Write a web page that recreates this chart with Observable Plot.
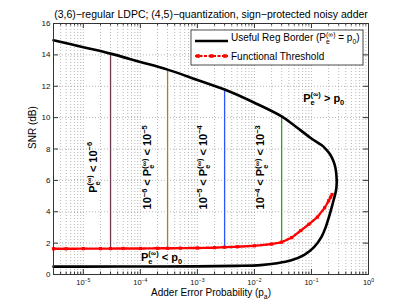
<!DOCTYPE html>
<html><head><meta charset="utf-8">
<script src="https://cdn.jsdelivr.net/npm/d3@7"></script>
<script src="https://cdn.jsdelivr.net/npm/@observablehq/plot@0.6"></script>
<style>
body{margin:0;background:#fff}
svg{font-family:"Liberation Sans",Arial,Helvetica,sans-serif}
</style>
</head><body><div id="chart"></div>
<script>
// ---------- data ----------
const titleText = "(3,6)−regular LDPC; (4,5)−quantization, sign−protected noisy adder";
const xLabel = "Adder Error Probability (p_{a})";
const yLabel = "SNR (dB)";
const xTicks = [1e-5, 1e-4, 1e-3, 1e-2, 1e-1, 1];
const yTicks = [0, 2, 4, 6, 8, 10, 12, 14, 16];

// Useful Reg Border (upper branch left->nose, then lower branch back to left)
const borderP = [3e-6, 1e-5, 3e-5, 1e-4, 3e-4, 1e-3, 3e-3, 1e-2, 3e-2, 5e-2, 0.1, 0.15, 0.18, 0.21, 0.235, 0.255, 0.268, 0.275, 0.277,
                 0.272, 0.26, 0.245, 0.225, 0.2, 0.177, 0.15, 0.111, 0.075, 0.043, 0.025, 0.0128, 5e-3, 1e-3, 1e-4, 1e-5, 3e-6];
const borderSNR = [14.93, 14.49, 14.08, 13.55, 13.06, 12.4, 11.79, 10.95, 10.08, 9.5, 8.67, 8.25, 7.98, 7.68, 7.35, 7.0, 6.62, 6.22, 5.85,
                   5.45, 5.1, 4.75, 4.25, 3.6, 3.0, 2.4, 1.74, 1.25, 0.89, 0.72, 0.6, 0.55, 0.52, 0.51, 0.5, 0.5];

// Functional Threshold
const threshP = [3e-6, 5e-6, 1e-5, 2e-5, 3e-5, 5e-5, 1e-4, 2e-4, 3e-4, 5e-4, 1e-3, 2e-3, 3e-3, 5e-3, 1e-2, 2e-2, 3e-2, 4.5e-2, 6.5e-2, 0.09, 0.127, 0.17, 0.2, 0.217, 0.23];
const threshSNR = [1.64, 1.64, 1.65, 1.65, 1.65, 1.66, 1.66, 1.67, 1.67, 1.68, 1.69, 1.71, 1.74, 1.77, 1.83, 1.94, 2.06, 2.35, 2.8, 3.2, 3.66, 4.25, 4.7, 4.93, 5.1];

// Region boundaries (vertical segments)
const regionP = [3e-5, 3e-4, 3e-3, 3e-2];
const regionLow = [1.65, 1.67, 1.74, 2.06];
const regionHigh = [14.08, 13.06, 11.79, 10.08];
const regionColors = ["#6b3a50", "#b07e20", "#2f55ff", "#3a9e22"];

// Region annotations
const annotText = ["P_{e}^{(∞)} < 10^{−6}", "10^{−6} < P_{e}^{(∞)} < 10^{−5}", "10^{−5} < P_{e}^{(∞)} < 10^{−4}", "10^{−4} < P_{e}^{(∞)} < 10^{−3}"];
const annotP = [1.5e-5, 1.34e-4, 1.28e-3, 1.29e-2];
const annotSNR = [6.83, 6.83, 6.83, 6.83];
const sideText = ["P_{e}^{(∞)} > p_{0}", "P_{e}^{(∞)} < p_{0}"];
const sideP = [0.164, 2.35e-4];
const sideSNR = [11.25, 1.1];

const legendLabels = ["Useful Reg Border (P_{e}^{(∞)} = p_{0})", "Functional Threshold"];

// ---------- build ----------
const border = borderP.map((p, i) => ({p, snr: borderSNR[i]}));
const thresh = threshP.map((p, i) => ({p, snr: threshSNR[i]}));
const annots = annotText.map((t, i) => ({t, p: annotP[i], snr: annotSNR[i]}));
const sides = sideText.map((t, i) => ({t, p: sideP[i], snr: sideSNR[i]}));

const W = 407, H = 308, mL = 53, mR = 39, mT = 23, mB = 34;
const plotW = W - mL - mR, plotH = H - mT - mB;
const xDomain = [3e-6, 1];
const minorX = [];
for (let d = -6; d <= 0; d++) for (let k = 2; k <= 9; k++) {
  const v = k * Math.pow(10, d);
  if (v >= xDomain[0] * 0.999 && v <= 1.0001) minorX.push(v);
}
const supFmt = d => "10^{" + String(Math.round(Math.log10(d))).replace("-", "−") + "}";

const marks = [
  Plot.ruleX(minorX.concat(xTicks), {stroke: "#9a9a9a", strokeWidth: 0.7, strokeDasharray: "1,2"}),
  Plot.ruleY(yTicks, {stroke: "#9a9a9a", strokeWidth: 0.7, strokeDasharray: "1,2"}),
  Plot.tickX(xTicks, {insetTop: plotH - 5, stroke: "#333"}),
  Plot.tickX(xTicks, {insetBottom: plotH - 5, stroke: "#333"}),
  Plot.tickX(minorX, {insetTop: plotH - 2.5, stroke: "#333"}),
  Plot.tickX(minorX, {insetBottom: plotH - 2.5, stroke: "#333"}),
  Plot.tickY(yTicks, {insetRight: plotW - 5, stroke: "#333"}),
  Plot.tickY(yTicks, {insetLeft: plotW - 5, stroke: "#333"}),
  Plot.axisX(xTicks, {tickSize: 0, tickPadding: 5, fontSize: 7.5, tickFormat: supFmt, label: null}),
  Plot.axisY(yTicks, {tickSize: 0, tickPadding: 3, fontSize: 8, label: null})
];
regionP.forEach((p, i) => {
  marks.push(Plot.ruleX([{p, lo: regionLow[i], hi: regionHigh[i]}], {x: "p", y1: "lo", y2: "hi", stroke: regionColors[i], strokeWidth: 1.3}));
});
marks.push(
  Plot.line(border, {x: "p", y: "snr", stroke: "black", strokeWidth: 2.6, curve: "catmull-rom"}),
  Plot.line(thresh, {x: "p", y: "snr", stroke: "#ff0000", strokeWidth: 2.4, strokeDasharray: "3,1.5"}),
  Plot.dot(thresh, {x: "p", y: "snr", symbol: "square", r: 1.8, fill: "#ff0000"}),
  Plot.text(annots, {x: "p", y: "snr", text: "t", rotate: -90, fontSize: 11, fontWeight: "bold", fill: "black"}),
  Plot.text(sides, {x: "p", y: "snr", text: "t", fontSize: 11, fontWeight: "bold", fill: "black"}),
  Plot.frame({stroke: "#333", strokeWidth: 1}),
  Plot.text([titleText], {frameAnchor: "top", dy: -13, fontSize: 10.5, fill: "black"}),
  Plot.text([yLabel], {frameAnchor: "left", dx: -21, rotate: -90, fontSize: 10, fill: "black"}),
  Plot.text([xLabel], {frameAnchor: "bottom", dy: 21, fontSize: 10, fill: "black"})
);

const svg = Plot.plot({
  width: W, height: H,
  marginLeft: mL, marginRight: mR, marginTop: mT, marginBottom: mB,
  style: {background: "#fff", fontFamily: '"Liberation Sans",Arial,sans-serif', color: "#111"},
  x: {type: "log", domain: xDomain},
  y: {domain: [0, 16]},
  marks
});
document.getElementById("chart").append(svg);

// ---------- legend ----------
const lg = d3.select(svg).append("g").attr("font-size", 10).attr("fill", "black").attr("text-anchor", "start");
lg.append("rect").attr("x", 191).attr("y", 30).attr("width", 172).attr("height", 35)
  .attr("fill", "white").attr("stroke", "#222").attr("stroke-width", 0.8);
lg.append("line").attr("x1", 195).attr("x2", 228).attr("y1", 41).attr("y2", 41)
  .attr("stroke", "black").attr("stroke-width", 2.6);
lg.append("line").attr("x1", 195).attr("x2", 228).attr("y1", 56).attr("y2", 56)
  .attr("stroke", "red").attr("stroke-width", 2.2).attr("stroke-dasharray", "3,1.5");
[198, 211.5, 225].forEach(x => lg.append("rect").attr("x", x - 1.8).attr("y", 54.2).attr("width", 3.6).attr("height", 3.6).attr("fill", "red"));
lg.append("text").attr("x", 231).attr("y", 41).attr("dy", "0.35em").attr("text-anchor", "start").text(legendLabels[0]);
lg.append("text").attr("x", 231).attr("y", 56).attr("dy", "0.35em").attr("text-anchor", "start").text(legendLabels[1]);

// ---------- rich text (sub/superscripts) ----------
const NS = "http://www.w3.org/2000/svg";
function richify(el) {
  const s = el.textContent;
  if (!/[_^]\{/.test(s)) return;
  const fs = parseFloat(getComputedStyle(el).fontSize) || 10;
  const re = /([_^])\{([^}]*)\}/g;
  const parts = []; let last = 0, m;
  while ((m = re.exec(s))) {
    if (m.index > last) parts.push({t: "n", s: s.slice(last, m.index)});
    parts.push({t: m[1] === "_" ? "sub" : "sup", s: m[2]});
    last = re.lastIndex;
  }
  if (last < s.length) parts.push({t: "n", s: s.slice(last)});
  el.textContent = "";
  let cur = 0, subW = 0, prev = null;
  parts.forEach(p => {
    const ts = document.createElementNS(NS, "tspan");
    const target = p.t === "sub" ? 0.3 * fs : p.t === "sup" ? -0.42 * fs : 0;
    ts.setAttribute("dy", (target - cur).toFixed(2));
    cur = target;
    if (p.t !== "n") ts.setAttribute("font-size", (0.68 * fs).toFixed(2));
    if (p.t === "sup" && prev === "sub") ts.setAttribute("dx", (-subW).toFixed(2));
    ts.textContent = p.s;
    el.appendChild(ts);
    if (p.t === "sub") subW = ts.getComputedTextLength();
    prev = p.t;
  });
}
svg.querySelectorAll("text").forEach(richify);
</script>
</body></html>
